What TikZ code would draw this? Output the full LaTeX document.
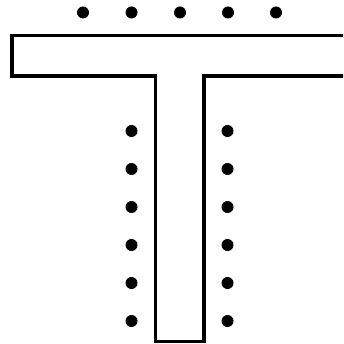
\documentclass[tikz,border=0pt]{standalone}
\usetikzlibrary{arrows.meta}

\begin{document}
\begin{tikzpicture}[x=1pt,y=-1pt,
                    dot/.style={circle,fill=black,inner sep=0pt,minimum size=12pt}]
  \useasboundingbox (0,0) rectangle (343,344);
  \clip (0,0) rectangle (343,344);
  % T outline, bar runs off to the right
  \draw[line width=3.4pt,line join=miter]
    (350,35.5) -- (12,35.5) -- (12,76) -- (155.5,76) -- (155.5,341.5)
    -- (204,341.5) -- (204,76) -- (350,76);
  % row of dots above the bar
  \foreach \i/\x in {1/83,2/131.5,3/180,4/228,5/276}
    \node[dot] (t\i) at (\x,12.5) {};
  % two columns beside the stem
  \foreach \i/\y in {1/131,2/169,3/207,4/245,5/283,6/321} {
    \node[dot] (l\i) at (131.5,\y) {};
    \node[dot] (r\i) at (227.5,\y) {};
  }
\end{tikzpicture}
\end{document}
